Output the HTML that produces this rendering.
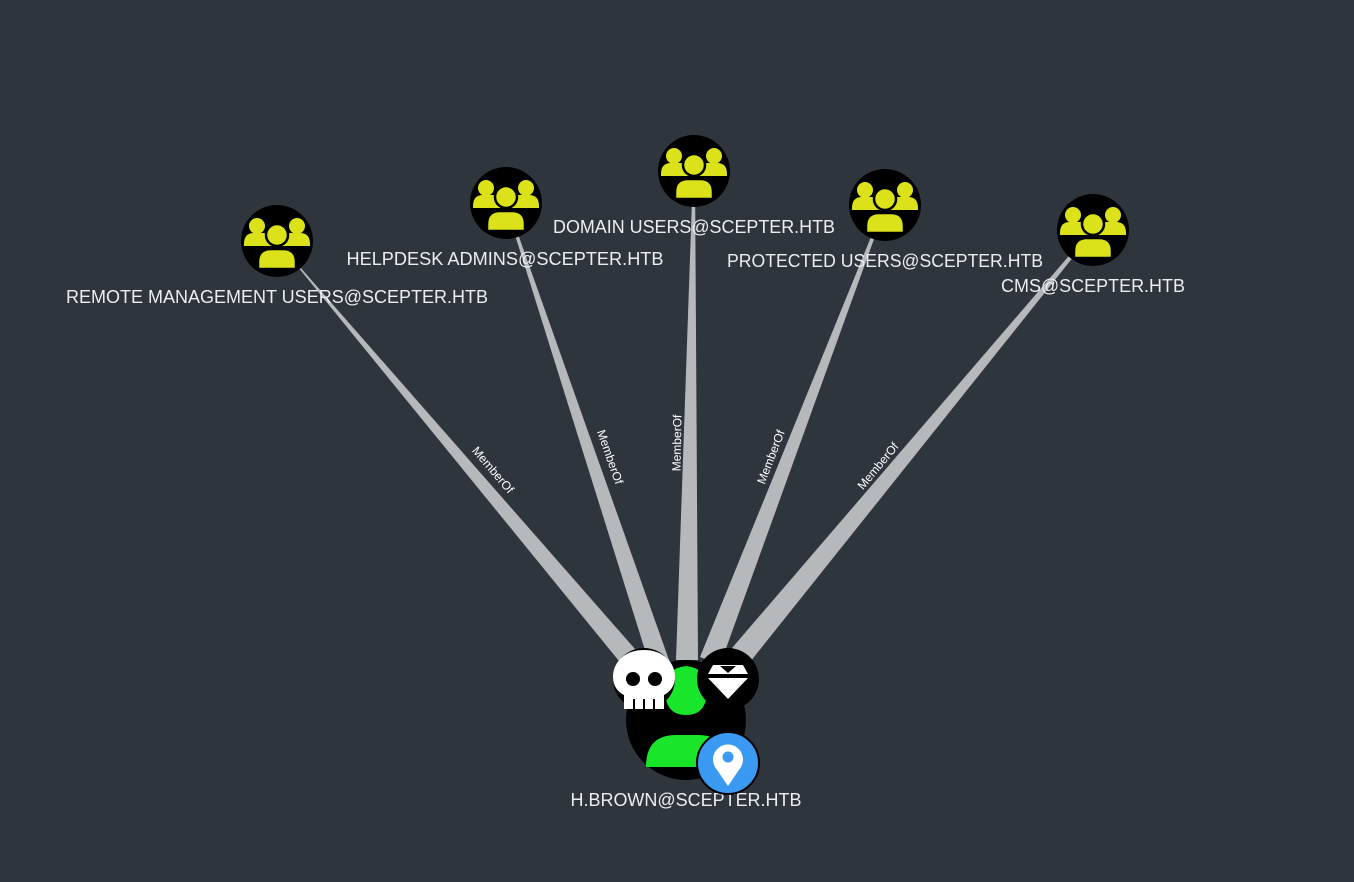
<!DOCTYPE html>
<html><head><meta charset="utf-8"><style>
html,body{margin:0;padding:0;background:#2e353d;}
svg{display:block}
text{font-family:"Liberation Sans",sans-serif;}
</style></head><body>
<svg width="1354" height="882" viewBox="0 0 1354 882">
<defs>
<g id="grp">
<circle r="36" fill="#000"/>
<g fill="#dbe21a">
<circle cx="-20" cy="-15" r="8"/><circle cx="20" cy="-15" r="8"/>
<path d="M-33 3 q0-11 10-11 h9 q10 0 10 11 v2 h-29z"/>
<path d="M4 3 q0-11 10-11 h9 q10 0 10 11 v2 h-29z"/>
<circle cx="0" cy="-6" r="11" stroke="#000" stroke-width="2.5"/>
<path d="M-19 28 v-7 q0-13 13-13 h12 q13 0 13 13 v7z" stroke="#000" stroke-width="2.5"/>
</g>
</g>
</defs>
<g fill="#b6b9bc">
<polygon points="276,240 278,242 649,665 632,677"/>
<polygon points="505,203 507,203 669,660 650,666"/>
<polygon points="693,171 695,171 698,660 676,660"/>
<polygon points="884,205 886,206 720,665 700,657"/>
<polygon points="1092,229 1094,231 750,662 732,648"/>
</g>
<g fill="#fff" font-size="12">
<text transform="translate(493,470) rotate(49.5)" text-anchor="middle" dy="4">MemberOf</text>
<text transform="translate(610,457) rotate(70.8)" text-anchor="middle" dy="4">MemberOf</text>
<text transform="translate(677,443) rotate(-89)" text-anchor="middle" dy="4">MemberOf</text>
<text transform="translate(771,457) rotate(-68.9)" text-anchor="middle" dy="4">MemberOf</text>
<text transform="translate(878,466) rotate(-50.3)" text-anchor="middle" dy="4">MemberOf</text>
</g>
<use href="#grp" x="277" y="241"/>
<use href="#grp" x="506" y="203"/>
<use href="#grp" x="694" y="171"/>
<use href="#grp" x="885" y="205"/>
<use href="#grp" x="1093" y="230"/>
<g fill="#eceeef" font-size="18" text-anchor="middle">
<text x="277" y="303" textLength="422" lengthAdjust="spacingAndGlyphs">REMOTE MANAGEMENT USERS@SCEPTER.HTB</text>
<text x="505" y="265" textLength="317" lengthAdjust="spacingAndGlyphs">HELPDESK ADMINS@SCEPTER.HTB</text>
<text x="694" y="233" textLength="282" lengthAdjust="spacingAndGlyphs">DOMAIN USERS@SCEPTER.HTB</text>
<text x="885" y="267" textLength="316" lengthAdjust="spacingAndGlyphs">PROTECTED USERS@SCEPTER.HTB</text>
<text x="1093" y="292" textLength="184" lengthAdjust="spacingAndGlyphs">CMS@SCEPTER.HTB</text>
<text x="686" y="806" textLength="231" lengthAdjust="spacingAndGlyphs">H.BROWN@SCEPTER.HTB</text>
</g>
<!-- main node -->
<circle cx="686" cy="720" r="60" fill="#000"/>
<path d="M665 690 q0-22 21-24 q21 2 21 24 q0 25-21 25 q-21 0-21-25z" fill="#19e52a"/>
<path d="M646 767 q0-32 30-32 h22 q30 0 30 32 z" fill="#19e52a"/>
<!-- skull -->
<circle cx="644" cy="679" r="31" fill="#000"/>
<path d="M644 650 c-19 0-31 12-31 27 c0 9 5 15 11 18 v14 h40 v-14 c6-3 11-9 11-18 c0-15-12-27-31-27z" fill="#fff"/>
<circle cx="633" cy="679" r="7" fill="#000"/><circle cx="655" cy="679" r="7" fill="#000"/>
<rect x="633" y="699" width="2" height="10" fill="#000"/><rect x="643" y="699" width="2" height="10" fill="#000"/><rect x="653" y="699" width="2" height="10" fill="#000"/>
<!-- gem -->
<circle cx="728" cy="679" r="31" fill="#000"/>
<polygon points="708,678 748,678 728,699" fill="#fff"/>
<polygon points="713,665 743,665 748,674 708,674" fill="#fff"/>
<polygon points="720,666 736,666 728,673" fill="#000"/>
<!-- pin -->
<circle cx="728" cy="763" r="31" fill="#3a99f0" stroke="#000" stroke-width="2"/>
<path d="M728 786 l-13-19 a15 15 0 1 1 26 0z" fill="#fff"/>
<circle cx="728" cy="757" r="5.5" fill="#3a99f0"/>
</svg>
</body></html>
